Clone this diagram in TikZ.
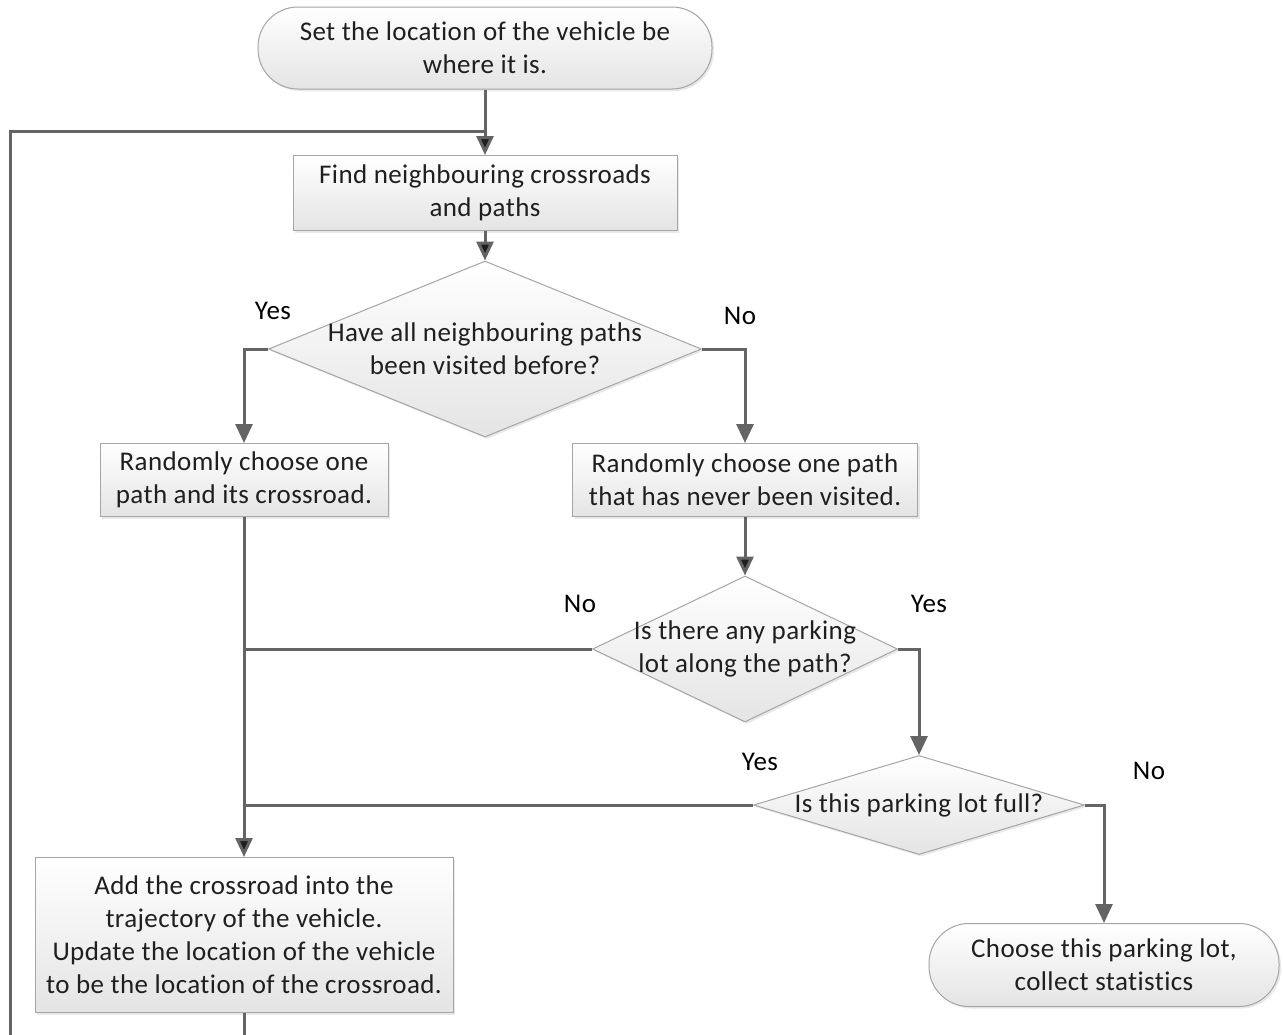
\documentclass[tikz,border=0pt]{standalone}
\usepackage{fontspec}
\setmainfont{Carlito}[Ligatures={NoCommon,NoRequired},LetterSpace=1.5]
\usetikzlibrary{arrows.meta,shapes.geometric,shadows}
\definecolor{linegray}{RGB}{100,100,100}
\definecolor{edgegray}{RGB}{165,165,165}
\definecolor{shadegray}{RGB}{228,228,228}

\begin{document}
\begin{tikzpicture}[x=1pt,y=-1pt,>={Triangle[width=17pt,length=19pt]}]
        \tikzset{shapebase/.style={draw=edgegray,
                line width=1pt,
                top color=white,
                bottom color=shadegray,
                drop shadow={shadow xshift=2pt,shadow yshift=-2pt,opacity=0.18},
                inner sep=0pt
            },
            terminal/.style={shapebase,
                shape=rectangle,
                rounded corners=40pt,
                align=center
            },
            block/.style={shapebase,
                shape=rectangle,
                align=center
            },
            decision/.style={shapebase,
                shape=diamond
            },
            qtext/.style={align=center},
            answer/.style={text=black},
            flow/.style={draw=linegray,line width=3pt}
        }
        \useasboundingbox (0,0) rectangle (1283,1034);
        \fontsize{27}{33}\selectfont
        \color{black!88}
        \node [terminal, minimum width=454pt, minimum height=82pt] (start) at (485,48)
            {Set the location of the vehicle be\\where it is.};
        \node [block, minimum width=384pt, minimum height=75pt] (find) at (485,193)
            {Find neighbouring crossroads\\and paths};
        \node [decision, minimum width=433pt, minimum height=176pt] (visited) at (485,349) {};
        \node [qtext] (visited_t) at (visited) {Have all neighbouring paths\\been visited before?};
        \node [block, minimum width=288pt, minimum height=73pt] (anypath) at (244,480)
            {Randomly choose one\\path and its crossroad.};
        \node [block, minimum width=345pt, minimum height=73pt] (newpath) at (745,480)
            {Randomly choose one path\\that has never been visited.};
        \node [decision, minimum width=305pt, minimum height=146pt] (haslot) at (745,649) {};
        \node [qtext] (haslot_t) at (haslot) {Is there any parking\\lot along the path?};
        \node [decision, minimum width=331pt, minimum height=99pt] (full) at (919,805) {};
        \node [qtext] (full_t) at (full) {Is this parking lot full?};
        \node [block, minimum width=418pt, minimum height=155pt] (update) at (244,935)
            {Add the crossroad into the\\trajectory of the vehicle.\\Update the location of the vehicle\\to be the location of the crossroad.};
        \node [terminal, minimum width=350pt, minimum height=83pt] (stop) at (1104,965)
            {Choose this parking lot,\\collect statistics};
%% answers
        \node [answer] (yes_a) at (273,311) {Yes};
        \node [answer] (no_a) at (740,316) {No};
        \node [answer] (no_b) at (580,604) {No};
        \node [answer] (yes_b) at (929,604) {Yes};
        \node [answer] (yes_c) at (760,762) {Yes};
        \node [answer] (no_c) at (1149,771) {No};
        \coordinate (join) at (485,131);
        \coordinate (loopbot) at (10,1074);
%% paths
\path[flow,->]
    (start) edge (find)
    (find) edge (visited)
    (newpath) edge (haslot)
    (anypath) edge (update)
;
\draw[flow,->] (visited.west) -| (anypath.north);
\draw[flow,->] (visited.east) -| (newpath.north);
\draw[flow,->] (haslot.east) -| (full.north);
\draw[flow,->] (full.east) -| (stop.north);
\draw[flow] (haslot.west) -- (haslot.west -| anypath.south);
\draw[flow] (full.west) -- (full.west -| anypath.south);
\draw[flow] (update.south) |- (loopbot) |- (join);
\end{tikzpicture}
\end{document}
